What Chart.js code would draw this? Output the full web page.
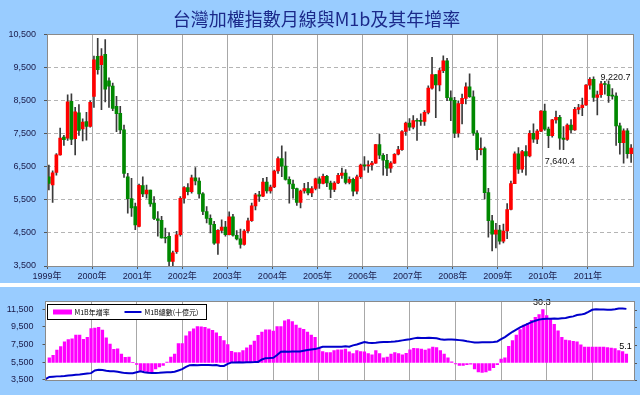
<!DOCTYPE html>
<html>
<head>
<meta charset="utf-8">
<title>台灣加權指數月線與M1b及其年增率</title>
<script src="https://cdn.jsdelivr.net/npm/chart.js@4.4.1/dist/chart.umd.min.js"></script>
<style>
  html, body { margin: 0; padding: 0; background: #fff; }
  canvas { display: block; }
  #m1b { margin-top: 4px; }
</style>
</head>
<body>
<canvas id="kline" width="640" height="283"></canvas>
<canvas id="m1b" width="640" height="108"></canvas>
<script>
// 月份 1999/01 ~ 2011/12
const months = [];
for (let yr = 1999; yr <= 2011; yr++) {
    for (let mo = 1; mo <= 12; mo++) months.push(yr + '/' + String(mo).padStart(2, '0'));
}
const yearLabels = ['1999年', '2000年', '2001年', '2002年', '2003年', '2004年', '2005年',
    '2006年', '2007年', '2008年', '2009年', '2010年', '2011年'];

// 加權指數 月 K 線 (開, 高, 低, 收)
const openPx = [
    6200, 5950, 6330, 6860, 7400, 7370, 8480, 7350, 8130, 7650, 7870, 7720,
    8630, 9840, 9590, 9900, 9100, 8940, 8330, 8120, 7620, 6200, 5540, 5300,
    4700, 5930, 5680, 5800, 5400, 4930, 4880, 4350, 4400, 3640, 3930, 4450,
    5550, 5870, 5750, 6170, 6070, 5680, 5150, 4940, 4760, 4190, 4580, 4680,
    4450, 4990, 4430, 4320, 4150, 4560, 4870, 5320, 5650, 5610, 6040, 5770,
    5890, 6375, 6750, 6520, 6120, 5980, 5840, 5420, 5770, 5845, 5710, 5845,
    6140, 5995, 6210, 6010, 5820, 6010, 6240, 6310, 6030, 6120, 5760, 6200,
    6550, 6530, 6560, 6610, 7170, 6850, 6700, 6460, 6610, 6880, 7020, 7570,
    7820, 7700, 7900, 7880, 7875, 8145, 8880, 9290, 8980, 9410, 9710, 8590,
    8510, 7520, 8410, 8570, 8920, 8620, 7520, 7020, 7050, 5720, 4870, 4460,
    4590, 4250, 4560, 5210, 5990, 6890, 6430, 6960, 6830, 7510, 7340, 7580,
    8190, 7640, 7440, 7920, 8000, 7370, 7330, 7760, 7620, 8240, 8290, 8370,
    8970, 9150, 8600, 8680, 9010, 8990, 8650, 8640, 7740, 7230, 7590, 6900
];
const highPx = [
    6550, 6380, 6900, 7670, 7450, 8680, 8710, 8300, 8380, 7950, 8150, 8500,
    9850, 10390, 10080, 10350, 9190, 9030, 8630, 8330, 7760, 6300, 6150, 5400,
    5980, 6200, 5950, 5800, 5600, 5150, 5000, 4650, 4500, 3950, 4550, 5600,
    5900, 5990, 6250, 6480, 6170, 5720, 5300, 5050, 4850, 4600, 4900, 4850,
    5140, 5060, 4570, 4620, 4600, 4950, 5400, 5700, 5760, 6150, 6180, 5950,
    6400, 6800, 7135, 6950, 6200, 6100, 5860, 5800, 6000, 6030, 5900, 6160,
    6200, 6280, 6240, 6070, 6050, 6300, 6460, 6420, 6200, 6160, 6250, 6580,
    6810, 6680, 6670, 7180, 7480, 6900, 6880, 6660, 6900, 7120, 7600, 7850,
    7960, 8050, 7960, 8100, 8200, 8950, 9810, 9300, 9480, 9860, 9780, 8800,
    8600, 8500, 8700, 9040, 9310, 8800, 7600, 7380, 7100, 5850, 5030, 4790,
    4730, 4770, 5390, 6070, 6950, 7080, 7000, 7140, 7600, 7800, 7630, 8200,
    8400, 7700, 7940, 8190, 8060, 7720, 7800, 7930, 8300, 8390, 8580, 8990,
    9200, 9220.7, 8790, 9090, 9090, 9100, 8870, 8740, 7820, 7650, 7660, 7170
];
const lowPx = [
    5800, 5420, 6250, 6850, 7150, 7300, 7170, 6860, 7450, 7280, 7310, 7700,
    8300, 9300, 8230, 8460, 8300, 8200, 7560, 7500, 6180, 5100, 5000, 4600,
    4680, 5600, 5550, 5300, 4900, 4400, 4340, 4200, 3410, 3450, 3880, 4400,
    5400, 5650, 5700, 5950, 5550, 5050, 4800, 4500, 4150, 3850, 4500, 4400,
    4440, 4400, 4290, 4040, 4130, 4500, 4850, 5200, 5450, 5600, 5700, 5700,
    5870, 6300, 6200, 6100, 5400, 5550, 5330, 5255, 5700, 5650, 5600, 5800,
    5850, 5980, 5900, 5570, 5750, 5990, 6150, 5980, 5980, 5620, 5680, 6150,
    6400, 6330, 6400, 6600, 6750, 6250, 6230, 6330, 6600, 6860, 7000, 7450,
    7600, 7650, 7300, 7750, 7750, 8100, 8850, 7990, 8800, 9350, 8500, 7900,
    7380, 7400, 7800, 8400, 8600, 7450, 6710, 6860, 5530, 4370, 3955, 4050,
    4160, 4200, 4330, 5200, 5990, 6300, 6330, 6250, 6800, 7240, 7200, 7560,
    7600, 7080, 7400, 7820, 7030, 7020, 7300, 7520, 7600, 8100, 8050, 8360,
    8850, 8480, 8070, 8600, 8700, 8450, 8550, 7150, 6880, 6610, 6760, 6630
];
const closePx = [
    6000, 6320, 6860, 7370, 7320, 8470, 7330, 8160, 7600, 7850, 7720, 8450,
    9740, 9440, 9850, 8850, 8940, 8270, 8110, 7620, 6300, 5540, 5260, 4740,
    5940, 5680, 5800, 5380, 4940, 4880, 4350, 4340, 3640, 3900, 4440, 5550,
    5870, 5750, 6170, 6070, 5680, 5150, 4940, 4760, 4190, 4580, 4680, 4450,
    4990, 4430, 4320, 4150, 4560, 4870, 5320, 5650, 5610, 6040, 5770, 5890,
    6375, 6750, 6520, 6120, 5980, 5840, 5420, 5770, 5845, 5710, 5845, 6140,
    5995, 6210, 6010, 5820, 6010, 6240, 6310, 6030, 6120, 5760, 6200, 6550,
    6530, 6560, 6610, 7170, 6850, 6700, 6460, 6610, 6880, 7020, 7570, 7820,
    7700, 7900, 7880, 7875, 8145, 8880, 9290, 8980, 9410, 9710, 8590, 8510,
    7520, 8410, 8570, 8920, 8620, 7520, 7020, 7050, 5720, 4870, 4460, 4590,
    4250, 4560, 5210, 5990, 6890, 6430, 6960, 6830, 7510, 7340, 7580, 8190,
    7640, 7440, 7920, 8000, 7370, 7330, 7760, 7620, 8240, 8290, 8370, 8970,
    9150, 8600, 8680, 9010, 8990, 8650, 8640, 7740, 7230, 7590, 6900, 7070
];
const priceTicks = [3500, 4500, 5500, 6500, 7500, 8500, 9500, 10500];
// 圖上標註的數值
const priceNotes = [
    { month: '2011/02', value: 9220.7 },
    { month: '2010/01', value: 7640.4 }
];

// M1B 總數(十億元), 1999/01 起
const m1bTotal = [
    3570, 3820, 3850, 3880, 3900, 3930, 3980, 4020, 4060, 4100, 4150, 4200,
    4250, 4550, 4620, 4600, 4520, 4460, 4460, 4400, 4330, 4250, 4230, 4230,
    4350, 4450, 4350, 4280, 4260, 4270, 4280, 4320, 4350, 4360, 4400, 4550,
    4700, 4950, 5150, 5160, 5150, 5160, 5170, 5160, 5150, 5160, 5050, 5070,
    5300, 5470, 5470, 5480, 5470, 5480, 5490, 5500, 5520, 5800, 5950, 5960,
    6000, 6300, 6680, 6700, 6690, 6700, 6700, 6720, 6800, 6880, 6930, 6980,
    7100, 7250, 7250, 7260, 7240, 7250, 7260, 7300, 7250, 7400, 7500, 7650,
    7790, 7700, 7680, 7700, 7750, 7780, 7800, 7820, 7850, 7900, 7970, 8040,
    8100, 8200, 8260, 8250, 8240, 8260, 8250, 8200, 8100, 8040, 8060, 8060,
    8050, 8000, 7950, 7870, 7800, 7730, 7740, 7760, 7760, 7760, 7780, 7850,
    8100, 8350, 8650, 8950, 9200, 9450, 9650, 9850, 10050, 10200, 10330, 10400,
    10420, 10430, 10450, 10420, 10480, 10520, 10620, 10700, 10850, 10900, 11000, 11200,
    11450, 11520, 11480, 11470, 11460, 11460, 11500, 11600, 11600, 11550
];
// M1B 年增率(%), 1999/02 起
const growthFrom = '1999/02';
const m1bGrowth = [
    3.0, 4.3, 7.3, 9.3, 12.0, 13.3, 13.7, 15.8, 15.8, 13.5, 14.6,
    19.5, 19.8, 20.3, 18.7, 14.3, 10.8, 7.7, 8.0, 5.0, 3.2, 3.4, 0.2,
    -0.8, -4.2, -4.6, -5.0, -5.0, -3.4, -2.2, -1.4, 0.5, 3.4, 5.0, 11.0,
    11.0, 15.5, 17.8, 19.4, 20.7, 20.5, 20.2, 19.4, 18.6, 17.2, 15.1, 12.8,
    10.4, 6.6, 5.9, 5.9, 7.0, 8.6, 10.2, 12.5, 15.7, 17.6, 18.9, 18.9,
    18.1, 20.7, 20.7, 23.9, 24.7, 23.6, 21.5, 19.9, 19.1, 17.5, 15.9, 14.6,
    8.3, 6.5, 5.9, 5.9, 7.0, 7.5, 7.5, 7.9, 6.3, 5.4, 7.0, 6.5,
    6.3, 5.4, 4.6, 7.0, 5.4, 3.0, 3.4, 5.0, 5.9, 5.4, 4.6, 5.5,
    7.5, 8.3, 8.2, 7.9, 7.4, 8.0, 9.0, 8.7, 7.0, 5.0, 3.0, 0.6,
    -0.5, -1.4, -1.4, -1.0, -0.7, -3.4, -5.0, -5.4, -5.0, -4.2, -2.6, -1.0,
    2.2, 3.0, 9.5, 12.7, 15.9, 19.0, 21.5, 22.6, 24.2, 26.0, 27.5, 30.3,
    27.0, 25.0, 22.0, 18.3, 14.6, 13.0, 12.7, 12.3, 12.0, 10.3, 9.1, 9.0,
    9.1, 9.1, 9.1, 9.1, 8.8, 8.5, 8.2, 7.0, 6.5, 5.1
];
const m1bTicks = [3500, 5500, 7500, 9500, 11500];
const growthTicks = [-10, 0, 10, 20, 30];

const BG_BLUE = '#99CCFF';
const AXIS_FONT = { family: '"Liberation Sans", "Noto Sans CJK TC", sans-serif', size: 9 };
const AXIS_COLOR = '#1a1a48';
const UP = '#FF0000';
const DOWN = '#008800';

// 藍底 + 白色繪圖區 + 灰框
const panelBg = {
    id: 'panelBg',
    beforeDraw(chart) {
        const { ctx, chartArea: a } = chart;
        ctx.save();
        ctx.fillStyle = BG_BLUE;
        ctx.fillRect(0, 0, chart.width, chart.height);
        ctx.fillStyle = '#FFFFFF';
        ctx.fillRect(a.left, a.top, a.right - a.left, a.bottom - a.top);
        ctx.restore();
    },
    afterDraw(chart) {
        const { ctx, chartArea: a } = chart;
        const l = Math.floor(a.left) + 0.5, t = Math.floor(a.top) + 0.5;
        const r = Math.floor(a.right) + 0.5, b = Math.floor(a.bottom) + 0.5;
        ctx.save();
        ctx.strokeStyle = '#8a8a8a';
        ctx.lineWidth = 1;
        ctx.strokeRect(l, t, r - l, b - t);
        ctx.restore();
    }
};

const candleNotes = {
    id: 'candleNotes',
    afterDatasetsDraw(chart, args, opts) {
        const { ctx, scales: { x, y } } = chart;
        ctx.save();
        ctx.font = '9px "Liberation Sans", sans-serif';
        ctx.fillStyle = '#111';
        ctx.textAlign = 'left';
        ctx.textBaseline = 'middle';
        priceNotes.forEach((n, k) => {
            const i = months.indexOf(n.month);
            const off = opts.offsets[k];
            const px = x.getPixelForValue(i + 0.5);
            const py = y.getPixelForValue(n.value);
            const txt = n.value.toLocaleString('en-US', { minimumFractionDigits: 1, maximumFractionDigits: 1 });
            ctx.fillText(txt, px + off[0], py + off[1]);
        });
        ctx.restore();
    }
};

const candleColors = closePx.map((c, i) => c >= openPx[i] ? UP : DOWN);

new Chart(document.getElementById('kline'), {
    type: 'bar',
    data: {
        datasets: [
            {
                label: '實體',
                data: months.map((m, i) => ({ x: i + 0.5, y: [openPx[i], closePx[i]] })),
                backgroundColor: candleColors,
                barThickness: 3,
                minBarLength: 1,
                grouped: false
            },
            {
                label: '影線',
                data: months.map((m, i) => ({ x: i + 0.5, y: [lowPx[i], highPx[i]] })),
                backgroundColor: '#3a3a3a',
                barThickness: 1,
                grouped: false
            }
        ]
    },
    options: {
        responsive: false,
        animation: false,
        layout: { padding: { left: 0, right: 7, top: 0, bottom: 0 } },
        plugins: {
            legend: { display: false },
            tooltip: { enabled: false },
            title: {
                display: true,
                text: '台灣加權指數月線與M1b及其年增率',
                color: '#1c2a8a',
                font: { family: '"Noto Sans CJK TC", sans-serif', size: 18, weight: 'normal' },
                padding: { top: 8, bottom: 5 }
            },
            candleNotes: { offsets: [[7, 1], [0, 32]] }
        },
        scales: {
            x: {
                type: 'linear',
                offset: false,
                min: 0,
                max: months.length,
                afterBuildTicks: s => { s.ticks = yearLabels.map((t, i) => ({ value: i * 12 })); },
                ticks: {
                    callback: (v, i) => yearLabels[i],
                    font: AXIS_FONT,
                    color: AXIS_COLOR,
                    padding: 2,
                    maxRotation: 0,
                    autoSkip: false
                },
                grid: { offset: false, color: '#a8a8a8', tickLength: 3, tickColor: '#555' },
                border: { display: false },
                afterFit: s => { s.height = 17; }
            },
            y: {
                min: priceTicks[0],
                max: priceTicks[priceTicks.length - 1],
                afterBuildTicks: s => { s.ticks = priceTicks.map(v => ({ value: v })); },
                ticks: {
                    callback: v => v.toLocaleString('en-US'),
                    font: AXIS_FONT,
                    color: AXIS_COLOR,
                    padding: 8
                },
                grid: { color: '#b4b4b4', tickLength: 3, tickColor: '#555' },
                border: { display: false, dash: [4, 3] },
                afterFit: s => { s.width = 47; }
            }
        }
    },
    plugins: [panelBg, candleNotes]
});

// M1B 圖例與數值標註
const m1bLegend = {
    id: 'm1bLegend',
    afterDatasetsDraw(chart) {
        const { ctx, chartArea: a } = chart;
        const line = chart.data.datasets[0];
        const bars = chart.data.datasets[1];
        const left = Math.floor(a.left) + 2.5, top = Math.floor(a.top) + 3.5;
        ctx.save();
        ctx.fillStyle = '#FFFFFF';
        ctx.fillRect(left, top, 159, 15);
        ctx.strokeStyle = '#000';
        ctx.lineWidth = 1;
        ctx.strokeRect(left, top, 159, 15);
        ctx.fillStyle = bars.backgroundColor;
        ctx.fillRect(left + 5.5, top + 5, 19, 5);
        ctx.font = '7px "Noto Sans CJK TC", sans-serif';
        ctx.fillStyle = '#000';
        ctx.textBaseline = 'middle';
        ctx.fillText(bars.label, left + 27, top + 8);
        ctx.strokeStyle = line.borderColor;
        ctx.lineWidth = 2;
        ctx.beginPath();
        ctx.moveTo(left + 77, top + 7.5);
        ctx.lineTo(left + 94, top + 7.5);
        ctx.stroke();
        ctx.fillText(line.label, left + 97, top + 8);

        // 最大值與最新值
        const meta = chart.getDatasetMeta(1);
        const vals = bars.data.map(d => d.y);
        const iMax = vals.indexOf(Math.max(...vals));
        const iLast = vals.length - 1;
        ctx.font = '9px "Liberation Sans", sans-serif';
        ctx.textAlign = 'center';
        ctx.textBaseline = 'bottom';
        [iMax, iLast].forEach(i => {
            const el = meta.data[i];
            ctx.fillText(vals[i].toFixed(1), el.x - 1, el.y - 3);
        });
        ctx.restore();
    }
};

const growthOffset = months.indexOf(growthFrom);

new Chart(document.getElementById('m1b'), {
    type: 'bar',
    data: {
        datasets: [
            {
                type: 'line',
                label: 'M1B總數(十億元)',
                data: m1bTotal.map((v, i) => ({ x: i, y: v })),
                yAxisID: 'y',
                borderColor: '#0000CC',
                borderWidth: 2,
                pointRadius: 0,
                tension: 0,
                order: 0
            },
            {
                type: 'bar',
                label: 'M1B年增率',
                data: m1bGrowth.map((v, i) => ({ x: i + growthOffset, y: v })),
                yAxisID: 'y1',
                backgroundColor: '#FF00FF',
                barThickness: 2.6,
                order: 1
            }
        ]
    },
    options: {
        responsive: false,
        animation: false,
        layout: { padding: { left: 0, right: 0, top: 6, bottom: 0 } },
        plugins: { legend: { display: false }, tooltip: { enabled: false } },
        scales: {
            x: {
                type: 'linear',
                offset: false,
                min: 0,
                max: 155,
                afterBuildTicks: s => { s.ticks = yearLabels.map((t, i) => ({ value: i * 12 })); },
                ticks: { display: false },
                grid: { offset: false, color: '#a8a8a8', drawTicks: false },
                border: { display: false },
                afterFit: s => { s.height = 7; }
            },
            y: {
                position: 'left',
                min: 3400,
                max: 12400,
                afterBuildTicks: s => { s.ticks = m1bTicks.map(v => ({ value: v })); },
                ticks: {
                    callback: v => v.toLocaleString('en-US'),
                    font: AXIS_FONT,
                    color: AXIS_COLOR,
                    padding: 9
                },
                grid: { drawOnChartArea: false, tickLength: 3, color: '#555' },
                border: { display: false },
                afterFit: s => { s.width = 45.5; }
            },
            y1: {
                position: 'right',
                min: -10,
                max: 35,
                afterBuildTicks: s => { s.ticks = growthTicks.map(v => ({ value: v })); },
                ticks: { display: false },
                grid: { drawOnChartArea: false, tickLength: 3, color: '#555' },
                border: { display: false },
                afterFit: s => { s.width = 6; }
            }
        }
    },
    plugins: [panelBg, m1bLegend]
});
</script>
</body>
</html>
